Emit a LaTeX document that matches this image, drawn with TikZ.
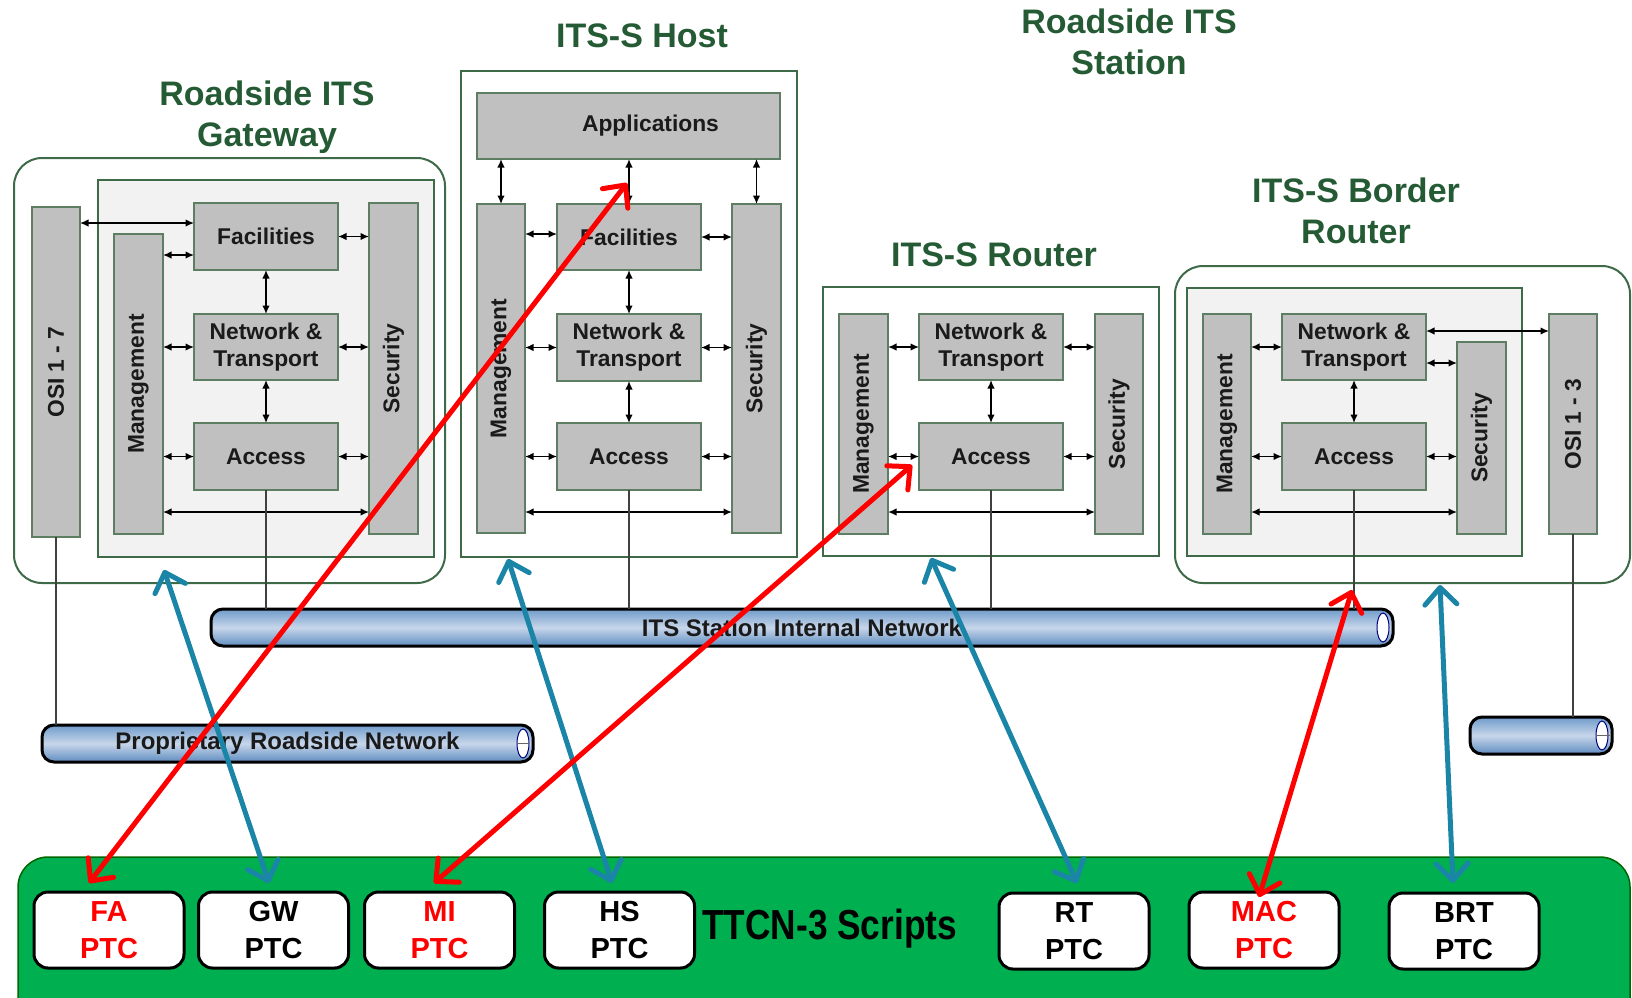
\documentclass[tikz,border=0pt]{standalone}
\usepackage{fontspec}
\setmainfont{Liberation Sans}
\usepackage{graphicx}
\usetikzlibrary{arrows.meta,calc}
\definecolor{ttl}{HTML}{245A34}
\definecolor{frm}{HTML}{3E6A48}
\definecolor{bbord}{HTML}{5E7E64}
\definecolor{bfill}{HTML}{C0C0C0}
\definecolor{innerc}{HTML}{F2F2F2}
\definecolor{tgreen}{HTML}{00B050}
\definecolor{ared}{HTML}{FF0000}
\definecolor{ablue}{HTML}{1B85A7}
\definecolor{cyltop}{HTML}{6F9BCB}
\definecolor{cylmid}{HTML}{C7D6EA}
\definecolor{cylbot}{HTML}{5F8DC0}
\definecolor{txt}{HTML}{1A1A1A}
\begin{document}
\begin{tikzpicture}[x=1pt,y=-1pt,
  blk/.style={draw=bbord, fill=bfill, line width=1.5pt, inner sep=0pt, outer sep=0pt,
    font=\fontsize{22.8}{27}\selectfont\bfseries, align=center, text=txt},
  frame/.style={draw=frm, line width=2pt},
  ttlnode/.style={font=\fontsize{34}{41}\selectfont\bfseries, text=ttl, align=center, inner sep=0pt},
  sarr/.style={line width=1.5pt, {Latex[length=8.5pt,width=7.5pt]}-{Latex[length=8.5pt,width=7.5pt]}},
  dline/.style={line width=1.2pt, draw=black!75},
  cyl/.style={draw=black, line width=3pt, rounded corners=12pt, top color=cyltop, bottom color=cylbot, middle color=cylmid, inner sep=0pt, outer sep=0pt, font=\fontsize{24}{26}\selectfont\bfseries, text=txt},
  cend/.style={draw=black!50!blue, line width=1pt, fill=white},
  ptc/.style={draw=black, line width=3pt, fill=white, rounded corners=14pt, minimum width=150pt, minimum height=76pt, inner sep=0pt, font=\fontsize{29}{37}\selectfont\bfseries, align=center},
  bigarr/.style={line width=5pt, line cap=round, {Straight Barb[length=17pt,width=32pt,round]}-{Straight Barb[length=17pt,width=32pt,round]}}
]
\useasboundingbox (0,0) rectangle (1632,997);

% ---------- titles
\node[ttlnode, anchor=north] (tGw) at (267,81) {Roadside ITS\\Gateway};
\node[ttlnode, anchor=base] (tHs) at (642,47) {ITS-S Host};
\node[ttlnode, anchor=north] (tSt) at (1129,9) {Roadside ITS\\Station};
\node[ttlnode, anchor=base] (tRt) at (994,266) {ITS-S Router};
\node[ttlnode, anchor=north] (tBr) at (1356,178) {ITS-S Border\\Router};

% ---------- frames
\draw[frame, fill=white, rounded corners=28pt] (14,158) rectangle (445,583);
\draw[frame, fill=innerc] (98,180) rectangle (434,557);
\draw[frame, fill=white] (461,71) rectangle (797,557);
\draw[frame, fill=white] (823,287) rectangle (1159,556);
\draw[frame, fill=white, rounded corners=28pt] (1175,266) rectangle (1630,583);
\draw[frame, fill=innerc] (1187,288) rectangle (1522,556);

% ---------- Gateway blocks
\node[blk, minimum width=48pt, minimum height=330pt] (gwOSI) at (56,372) {\rotatebox{90}{OSI 1 - 7}};
\node[blk, minimum width=49pt, minimum height=300pt] (gwM) at (138.5,384) {\rotatebox{90}{Management}};
\node[blk, minimum width=144pt, minimum height=67pt] (gwF) at (266,236.5) {Facilities};
\node[blk, minimum width=144pt, minimum height=66pt] (gwN) at (266,347) {Network \&\\Transport};
\node[blk, minimum width=144pt, minimum height=67pt] (gwA) at (266,456.5) {Access};
\node[blk, minimum width=49pt, minimum height=331pt] (gwS) at (393.5,368.5) {\rotatebox{90}{Security}};

% ---------- Host blocks
\node[blk, minimum width=303pt, minimum height=66pt] (hsApp) at (628.5,126) {\hspace*{44pt}Applications};
\node[blk, minimum width=48pt, minimum height=329pt] (hsM) at (501,368.5) {\rotatebox{90}{Management}};
\node[blk, minimum width=144pt, minimum height=66pt] (hsF) at (629,237) {Facilities};
\node[blk, minimum width=144pt, minimum height=67pt] (hsN) at (629,347.5) {Network \&\\Transport};
\node[blk, minimum width=144pt, minimum height=67pt] (hsA) at (629,456.5) {Access};
\node[blk, minimum width=49pt, minimum height=329pt] (hsS) at (756.5,368.5) {\rotatebox{90}{Security}};

% ---------- Router blocks
\node[blk, minimum width=49pt, minimum height=220pt] (rtM) at (863.5,424) {\rotatebox{90}{Management}};
\node[blk, minimum width=144pt, minimum height=66pt] (rtN) at (991,347) {Network \&\\Transport};
\node[blk, minimum width=144pt, minimum height=67pt] (rtA) at (991,456.5) {Access};
\node[blk, minimum width=48pt, minimum height=220pt] (rtS) at (1119,424) {\rotatebox{90}{Security}};

% ---------- Border router blocks
\node[blk, minimum width=48pt, minimum height=220pt] (brM) at (1227,424) {\rotatebox{90}{Management}};
\node[blk, minimum width=144pt, minimum height=66pt] (brN) at (1354,347) {Network \&\\Transport};
\node[blk, minimum width=144pt, minimum height=67pt] (brA) at (1354,456.5) {Access};
\node[blk, minimum width=49pt, minimum height=192pt] (brS) at (1481.5,438) {\rotatebox{90}{Security}};
\node[blk, minimum width=48pt, minimum height=220pt] (brOSI) at (1573,424) {\rotatebox{90}{OSI 1 - 3}};

% ---------- small arrows: gateway
\draw[sarr] (gwOSI.east |- 0,223) -- (gwF.west |- 0,223);
\draw[sarr] (gwM.east |- 0,255) -- (gwF.west |- 0,255);
\draw[sarr] (gwF.east) -- (gwS.west |- gwF.east);
\draw[sarr] (gwM.east |- gwN.west) -- (gwN.west);
\draw[sarr] (gwN.east) -- (gwS.west |- gwN.east);
\draw[sarr] (gwM.east |- gwA.west) -- (gwA.west);
\draw[sarr] (gwA.east) -- (gwS.west |- gwA.east);
\draw[sarr] (gwM.east |- 0,512) -- (gwS.west |- 0,512);
\draw[sarr] (gwF.south) -- (gwN.north);
\draw[sarr] (gwN.south) -- (gwA.north);
% host
\draw[sarr] (hsApp.south -| hsM.north) -- (hsM.north);
\draw[sarr] (hsApp.south -| hsF.north) -- (hsF.north);
\draw[sarr] (hsApp.south -| hsS.north) -- (hsS.north);
\draw[sarr] (hsM.east |- 0,234) -- (hsF.west |- 0,234);
\draw[sarr] (hsF.east) -- (hsS.west |- hsF.east);
\draw[sarr] (hsM.east |- hsN.west) -- (hsN.west);
\draw[sarr] (hsN.east) -- (hsS.west |- hsN.east);
\draw[sarr] (hsM.east |- hsA.west) -- (hsA.west);
\draw[sarr] (hsA.east) -- (hsS.west |- hsA.east);
\draw[sarr] (hsM.east |- 0,512) -- (hsS.west |- 0,512);
\draw[sarr] (hsF.south) -- (hsN.north);
\draw[sarr] (hsN.south) -- (hsA.north);
% router
\draw[sarr] (rtM.east |- rtN.west) -- (rtN.west);
\draw[sarr] (rtN.east) -- (rtS.west |- rtN.east);
\draw[sarr] (rtM.east |- rtA.west) -- (rtA.west);
\draw[sarr] (rtA.east) -- (rtS.west |- rtA.east);
\draw[sarr] (rtM.east |- 0,512) -- (rtS.west |- 0,512);
\draw[sarr] (rtN.south) -- (rtA.north);
% border router
\draw[sarr] (brM.east |- brN.west) -- (brN.west);
\draw[sarr] (brN.east |- 0,331) -- (brOSI.west |- 0,331);
\draw[sarr] (brN.east |- 0,363) -- (brS.west |- 0,363);
\draw[sarr] (brM.east |- brA.west) -- (brA.west);
\draw[sarr] (brA.east) -- (brS.west |- brA.east);
\draw[sarr] (brM.east |- 0,512) -- (brS.west |- 0,512);
\draw[sarr] (brN.south) -- (brA.north);

% ---------- networks
\node[cyl, minimum width=1182pt, minimum height=37pt] (net1) at (802,627.5) {ITS Station Internal Network};
\node[cyl, minimum width=491pt, minimum height=37pt] (net2) at (287.5,743.5) {Proprietary Roadside Network};
\node[cyl, minimum width=142pt, minimum height=37pt] (net3) at (1541,735.5) {};
\draw[cend] ($(net1.east)+(-10,0)$) ellipse [x radius=6pt, y radius=14.5pt];
\draw[cend] ($(net2.east)+(-10,0)$) ellipse [x radius=6pt, y radius=14.5pt];
\draw[cend] ($(net3.east)+(-10,0)$) ellipse [x radius=6pt, y radius=14.5pt];
\draw[line width=1pt, black!60] ($(net2.east)+(-16,0)$) -- ($(net2.east)+(-4,0)$);
\draw[line width=1pt, black!60] ($(net3.east)+(-16,0)$) -- ($(net3.east)+(-2,0)$);

% ---------- connection lines
\draw[dline] (gwA.south) -- (gwA.south |- net1.north);
\draw[dline] (hsA.south) -- (hsA.south |- net1.north);
\draw[dline] (rtA.south) -- (rtA.south |- net1.north);
\draw[dline] (brA.south) -- (brA.south |- net1.north);
\draw[dline] (gwOSI.south) -- (gwOSI.south |- net2.north);
\draw[dline] (brOSI.south) -- (brOSI.south |- net3.north);

% ---------- TTCN-3 panel
\draw[fill=tgreen, draw=black!60!green, line width=1.5pt, rounded corners=30pt] (18,857) rectangle (1630,1040);
\node[ptc, text=ared] (faB) at (109,930) {FA\\PTC};
\node[ptc] (gwB) at (273.5,930) {GW\\PTC};
\node[ptc, text=ared] (miB) at (439.5,930) {MI\\PTC};
\node[ptc] (hsB) at (619.5,930) {HS\\PTC};
\node[ptc] (rtB) at (1074,931) {RT\\PTC};
\node[ptc, text=ared] (macB) at (1264,930) {MAC\\PTC};
\node[ptc] (brtB) at (1464,931) {BRT\\PTC};
\node[anchor=base west, inner sep=0pt, font=\fontsize{42}{44}\selectfont\bfseries] (ttcn) at (702,939) {\scalebox{0.84}[1]{TTCN-3 Scripts}};

% ---------- big arrows
\coordinate (faT) at (89,883);   \coordinate (appT) at (627,183);
\coordinate (miT) at (434,883);  \coordinate (rtAT) at (912,465);
\coordinate (macT) at (1259,897);\coordinate (brAT) at (1352,590);
\coordinate (gwT) at (269,883);  \coordinate (gwFr) at (164,570);
\coordinate (hsT) at (612,883);  \coordinate (hsFr) at (508,559);
\coordinate (rtT) at (1077,883); \coordinate (rtFr) at (931,558);
\coordinate (brtT) at (1453,883);\coordinate (brFr) at (1440,585);
\draw[bigarr, ablue] (gwT) -- (gwFr);
\draw[bigarr, ablue] (hsT) -- (hsFr);
\draw[bigarr, ablue] (rtT) -- (rtFr);
\draw[bigarr, ablue] (brtT) -- (brFr);
\draw[bigarr, ared] (faT) -- (appT);
\draw[bigarr, ared] (miT) -- (rtAT);
\draw[bigarr, ared] (macT) -- (brAT);
\end{tikzpicture}
\end{document}
